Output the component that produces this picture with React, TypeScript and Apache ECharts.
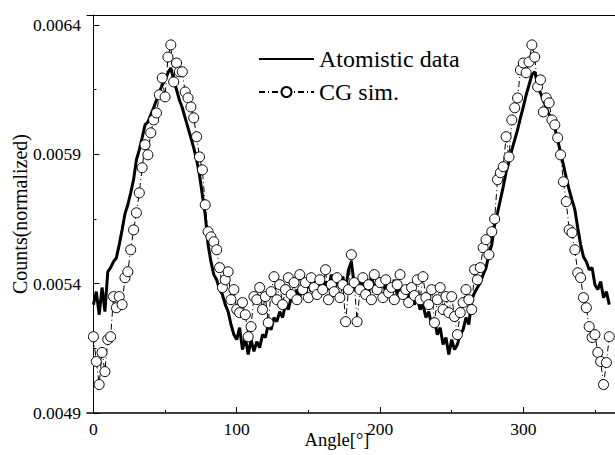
import React, { useEffect, useRef } from "react";
import * as echarts from "echarts";

const angles = [
  0, 2, 4, 6, 8, 10, 12, 14, 16, 18, 20, 22, 24, 26, 28, 30, 32, 34, 36, 38,
  40, 42, 44, 46, 48, 50, 52, 54, 56, 58, 60, 62, 64, 66, 68, 70, 72, 74, 76, 78,
  80, 82, 84, 86, 88, 90, 92, 94, 96, 98, 100, 102, 104, 106, 108, 110, 112, 114, 116, 118,
  120, 122, 124, 126, 128, 130, 132, 134, 136, 138, 140, 142, 144, 146, 148, 150, 152, 154, 156, 158,
  160, 162, 164, 166, 168, 170, 172, 174, 176, 178, 180, 182, 184, 186, 188, 190, 192, 194, 196, 198,
  200, 202, 204, 206, 208, 210, 212, 214, 216, 218, 220, 222, 224, 226, 228, 230, 232, 234, 236, 238,
  240, 242, 244, 246, 248, 250, 252, 254, 256, 258, 260, 262, 264, 266, 268, 270, 272, 274, 276, 278,
  280, 282, 284, 286, 288, 290, 292, 294, 296, 298, 300, 302, 304, 306, 308, 310, 312, 314, 316, 318,
  320, 322, 324, 326, 328, 330, 332, 334, 336, 338, 340, 342, 344, 346, 348, 350, 352, 354, 356, 358,
  360,
];

const atomistic = [
  0.005319, 0.005369, 0.00528, 0.005385, 0.005292, 0.005446, 0.005462, 0.005485, 0.0055, 0.005551,
  0.005608, 0.00567, 0.005705, 0.005751, 0.005802, 0.005879, 0.005917, 0.005964, 0.006014, 0.006025,
  0.006053, 0.00608, 0.00611, 0.006141, 0.006168, 0.006188, 0.006215, 0.006234, 0.006188, 0.006149,
  0.00611, 0.00608, 0.006041, 0.006002, 0.005964, 0.005925, 0.005879, 0.005821, 0.005744, 0.005666,
  0.005551, 0.005485, 0.005435, 0.005415, 0.005377, 0.005358, 0.005319, 0.005292, 0.005242, 0.005203,
  0.005184, 0.00523, 0.005145, 0.005192, 0.005126, 0.005184, 0.005138, 0.005176, 0.005153, 0.005203,
  0.005192, 0.005242, 0.005222, 0.005269, 0.005253, 0.005292, 0.005269, 0.005319, 0.0053, 0.005346,
  0.005331, 0.005377, 0.005346, 0.005396, 0.005358, 0.005408, 0.005369, 0.005415, 0.005377, 0.005423,
  0.005365, 0.005408, 0.005377, 0.005435, 0.005369, 0.005415, 0.005385, 0.005427, 0.005377, 0.005454,
  0.005485, 0.005396, 0.005369, 0.005423, 0.005377, 0.005408, 0.005361, 0.005431, 0.005377, 0.005408,
  0.005369, 0.005423, 0.005361, 0.005404, 0.005377, 0.005415, 0.005358, 0.005396, 0.005346, 0.005385,
  0.005338, 0.005369, 0.005319, 0.005346, 0.0053, 0.005319, 0.005269, 0.005292, 0.005242, 0.005261,
  0.005203, 0.00523, 0.005165, 0.005192, 0.005126, 0.005184, 0.005145, 0.005165, 0.005203, 0.005222,
  0.005269, 0.005242, 0.005338, 0.005365, 0.005385, 0.005404, 0.005435, 0.005462, 0.005512, 0.005551,
  0.005628, 0.005674, 0.005724, 0.005775, 0.005832, 0.005871, 0.005917, 0.005956, 0.005995, 0.006041,
  0.006083, 0.00613, 0.006168, 0.006207, 0.006219, 0.006168, 0.006137, 0.00611, 0.00608, 0.006053,
  0.006033, 0.006002, 0.005956, 0.005906, 0.005859, 0.005809, 0.005763, 0.005724, 0.005686, 0.005616,
  0.005551, 0.005504, 0.005485, 0.005454, 0.005462, 0.005396, 0.005377, 0.005408, 0.005346, 0.005369,
  0.005319,
];

const cgSim = [
  0.005195, 0.005099, 0.00501, 0.005134, 0.00506, 0.005184, 0.005195, 0.00535, 0.005307, 0.00535,
  0.005319, 0.005423, 0.005446, 0.005531, 0.005608, 0.005674, 0.005751, 0.005848, 0.005937, 0.005898,
  0.005983, 0.006033, 0.00606, 0.00613, 0.006195, 0.006122, 0.006276, 0.006323, 0.00618, 0.006253,
  0.006219, 0.006219, 0.006141, 0.006118, 0.006083, 0.006041, 0.005968, 0.00589, 0.00584, 0.005705,
  0.005601, 0.005581, 0.005562, 0.005531, 0.005462, 0.005385, 0.005415, 0.005446, 0.005338, 0.005377,
  0.0053, 0.005288, 0.005327, 0.00528, 0.005195, 0.005234, 0.00535, 0.005338, 0.005385, 0.0053,
  0.00535, 0.005249, 0.005369, 0.005427, 0.005338, 0.005396, 0.005319, 0.005377, 0.005423, 0.005358,
  0.005404, 0.005338, 0.005435, 0.005377, 0.005404, 0.005346, 0.005423, 0.005385, 0.005358, 0.005415,
  0.005377, 0.005454, 0.005338, 0.005396, 0.005369, 0.005423, 0.005346, 0.005396, 0.005253, 0.005377,
  0.005512, 0.005404, 0.005253, 0.005377, 0.005423, 0.005358, 0.005396, 0.005338, 0.005435, 0.005377,
  0.005404, 0.005346, 0.005415, 0.005365, 0.005385, 0.005338, 0.005396, 0.005435, 0.005358, 0.005377,
  0.005327, 0.005385, 0.005354, 0.005415, 0.005338, 0.005427, 0.005346, 0.005319, 0.005377, 0.005249,
  0.005338, 0.005385, 0.0053, 0.00535, 0.005288, 0.00535, 0.005273, 0.005203, 0.005288, 0.005327,
  0.005377, 0.005338, 0.0053, 0.005454, 0.005415, 0.005462, 0.005539, 0.00557, 0.005512, 0.005601,
  0.00565, 0.005802, 0.005829, 0.005852, 0.005968, 0.00589, 0.006033, 0.00608, 0.006118, 0.006226,
  0.006253, 0.006215, 0.006257, 0.006323, 0.006276, 0.006161, 0.006188, 0.006064, 0.006118, 0.006099,
  0.006033, 0.006014, 0.005964, 0.005898, 0.005794, 0.005717, 0.005608, 0.005597, 0.005531, 0.005442,
  0.005423, 0.005346, 0.005307, 0.005234, 0.005192, 0.005203, 0.005134, 0.005099, 0.00501, 0.005095,
  0.005195,
];

const xMajorTicks = [0, 100, 200, 300];
const xMinorTicks = [50, 150, 250, 350];
const yMajorTicks = [0.0049, 0.0054, 0.0059, 0.0064];
const yMinorTicks = [0.00515, 0.00565, 0.00615];

const FONT = '"Liberation Serif", "Times New Roman", serif';
const X_MIN = -4.5;
const X_MAX = 364;
const Y_MIN = 0.0049;
const Y_MAX = 0.0064386;

export default function App() {
  const ref = useRef<HTMLDivElement>(null);
  useEffect(() => {
    if (!ref.current) return;
    const chart = echarts.init(ref.current, null, { renderer: "svg" });
    const atomData = angles.map((a, i) => [a, atomistic[i]]);
    const cgData = angles.map((a, i) => [a, cgSim[i]]);
    chart.setOption({
      animation: false,
      backgroundColor: "#fff",
      textStyle: { fontFamily: FONT, color: "#000" },
      grid: { left: 87, right: 0, top: 15, bottom: 42, containLabel: false, outerBoundsMode: "none" },
      legend: {
        orient: "vertical",
        left: 258,
        top: 47,
        padding: 0,
        itemWidth: 55,
        itemHeight: 12.5,
        itemGap: 9,
        textStyle: { fontFamily: FONT, fontSize: 24, color: "#000", lineHeight: 24 },
        data: [
          { name: "Atomistic data", itemStyle: { opacity: 0 } },
          { name: "CG sim." },
        ],
      },
      xAxis: [
        {
          type: "value",
          min: X_MIN,
          max: X_MAX,
          position: "bottom",
          name: "Angle[°]",
          nameLocation: "middle",
          nameGap: 17,
          nameMoveOverlap: false,
          nameTextStyle: {
            fontFamily: FONT,
            fontSize: 18.5,
            color: "#000",
            verticalAlign: "top",
            padding: [0, 28, 0, 0],
          },
          axisLine: { show: true, lineStyle: { color: "#000", width: 1.5 } },
          axisTick: { show: true, inside: true, length: 6, customValues: xMajorTicks, lineStyle: { color: "#000", width: 1 } },
          axisLabel: { show: true, customValues: xMajorTicks, margin: 7, fontFamily: FONT, fontSize: 17.5, color: "#000" },
          splitLine: { show: false },
        },
        {
          type: "value",
          min: X_MIN,
          max: X_MAX,
          position: "bottom",
          axisLine: { show: false },
          axisTick: { show: true, inside: true, length: 3, customValues: xMinorTicks, lineStyle: { color: "#000", width: 1 } },
          axisLabel: { show: false },
          splitLine: { show: false },
        },
        {
          type: "value",
          min: X_MIN,
          max: X_MAX,
          position: "top",
          axisLine: { show: true, lineStyle: { color: "#000", width: 1 } },
          axisTick: { show: false },
          axisLabel: { show: false },
          splitLine: { show: false },
        },
      ],
      yAxis: [
        {
          type: "value",
          min: Y_MIN,
          max: Y_MAX,
          position: "left",
          name: "Counts(normalized)",
          nameLocation: "middle",
          nameGap: 57,
          nameMoveOverlap: false,
          nameTextStyle: { fontFamily: FONT, fontSize: 20, color: "#000" },
          axisLine: { show: true, lineStyle: { color: "#000", width: 1 } },
          axisTick: { show: true, inside: true, length: 6, customValues: yMajorTicks, lineStyle: { color: "#000", width: 1 } },
          axisLabel: {
            show: true,
            customValues: yMajorTicks,
            margin: 6,
            fontFamily: FONT,
            fontSize: 17.5,
            color: "#000",
            formatter: (v: number) => v.toFixed(4),
          },
          splitLine: { show: false },
        },
        {
          type: "value",
          min: Y_MIN,
          max: Y_MAX,
          position: "left",
          axisLine: { show: false },
          axisTick: { show: true, inside: true, length: 3, customValues: yMinorTicks, lineStyle: { color: "#000", width: 1 } },
          axisLabel: { show: false },
          splitLine: { show: false },
        },
      ],
      series: [
        {
          type: "line",
          name: "Atomistic data",
          xAxisIndex: 0,
          yAxisIndex: 0,
          data: atomData,
          symbol: "none",
          lineStyle: { color: "#000", width: 3 },
          itemStyle: { color: "#000" },
          z: 2,
        },
        {
          type: "line",
          name: "CG sim.",
          xAxisIndex: 0,
          yAxisIndex: 0,
          data: cgData,
          symbol: "circle",
          symbolSize: 10,
          showSymbol: true,
          showAllSymbol: true,
          lineStyle: { color: "#000", width: 1, type: [6, 3, 1, 3] },
          itemStyle: { color: "#fff", borderColor: "#000", borderWidth: 1 },
          z: 3,
        },
      ],
    });
    return () => chart.dispose();
  }, []);
  return (
    <div
      ref={ref}
      style={{ position: "absolute", left: 0, top: 0, width: 615, height: 455 }}
    />
  );
}
